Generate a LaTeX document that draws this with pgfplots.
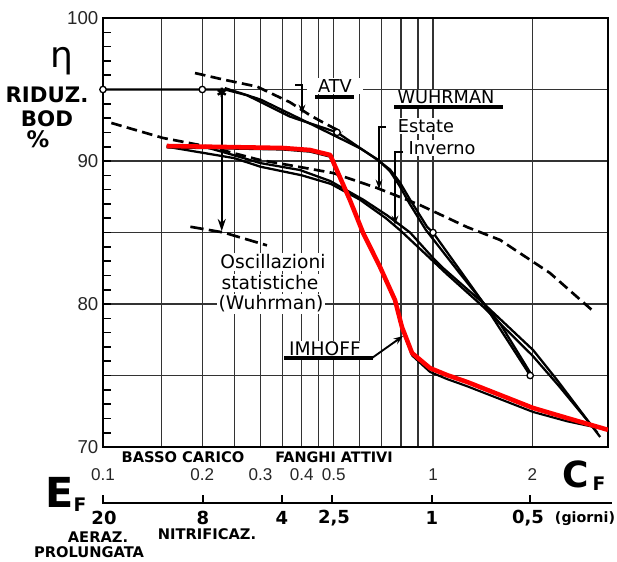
\documentclass[border=0pt]{standalone}
\usepackage{fontspec}
\setmainfont{Liberation Sans}
\newfontfamily\dejavu{DejaVu Sans}
\usepackage{pgfplots}
\pgfplotsset{compat=1.18}
\usetikzlibrary{arrows.meta}

\newcommand\anno{\dejavu\fontsize{13.3}{15}\selectfont}
\newcommand\bld[1]{\dejavu\bfseries\fontsize{#1}{#1}\selectfont}

\begin{document}
\begin{tikzpicture}
\path[use as bounding box] (-77.25pt,-85.5pt) rectangle (385.5pt,335.25pt);
\begin{axis}[
  at={(0,0)}, anchor=south west, scale only axis,
  width=378.75pt, height=321.75pt,
  xmode=log, xmin=0.1, xmax=3.39, ymin=70, ymax=100,
  axis line style={line width=1.6pt},
  xtick={0.1,0.15,0.2,0.25,0.3,0.35,0.4,0.45,0.5,0.6,0.7,0.8,0.9,1,2},
  xticklabels={0.1,,0.2,,0.3,,0.4,,0.5,,,,,1,2},
  x tick style={draw=none},
  xmajorgrids, ymajorgrids,
  grid style={black!80, line width=0.9pt},
  ytick={70,75,80,85,90,95,100}, yticklabels={70,,80,,90,,100},
  minor y tick num=4,
  ytick pos=left, xtick pos=bottom, tick align=inside,
  y tick style={line width=1.2pt, black},
  major tick length=6pt, minor tick length=6pt,
  xticklabel style={font=\fontsize{12.8}{14}\selectfont, text=black!85, anchor=center, yshift=-21pt},
  yticklabel style={font=\fontsize{14}{16}\selectfont, text=black!85},
]
% oscillazioni statistiche: upper and lower dashed envelopes
\addplot[black, line width=2pt, dash pattern=on 8pt off 4pt] coordinates {
  (0.19,96.15) (0.231,95.7) (0.293,95.2) (0.369,94.1) (0.424,93.2) (0.464,92.7) (0.53,92.0)
};
\addplot[black, line width=2pt, dash pattern=on 8pt off 4pt] coordinates {
  (0.106,92.66) (0.152,91.61) (0.211,90.98) (0.299,90.07) (0.395,89.58) (0.498,89.16)
  (0.677,88.11) (0.794,87.48) (0.913,86.92) (1.268,85.38) (1.596,84.48) (2.26,82.17) (3.03,79.58)
};
\addplot[black, line width=2pt, dash pattern=on 10pt off 4pt] coordinates {
  (0.184,85.4) (0.232,85.0) (0.314,84.1)
};
% Wuhrman inverno (lower pair)
\addplot[black, line width=1.7pt] coordinates {
  (0.156,91.05) (0.204,90.98) (0.248,90.42) (0.299,89.86) (0.395,89.37) (0.488,88.6)
  (0.614,87.3) (0.726,86.2) (0.852,85.0) (1.0,83.22) (1.072,82.52) (1.418,80.07)
  (2.01,76.78) (2.375,74.69) (3.21,70.70)
};
\addplot[black, line width=1.7pt] coordinates {
  (0.156,91.0) (0.25,90.2) (0.3,89.6) (0.4,89.0) (0.49,88.4) (0.6,87.3) (0.72,86.0)
  (0.8,85.1) (1.0,83.0) (1.1,82.1) (1.42,79.8) (2.0,76.4) (2.4,74.3) (3.15,71.0)
};
% Wuhrman estate
\addplot[black, line width=1.7pt] coordinates {
  (0.234,95.1) (0.30,94.3) (0.40,92.9) (0.49,91.9) (0.60,90.9) (0.68,90.1) (0.74,89.3)
  (0.79,88.3) (0.85,87.0) (0.95,85.2) (1.2,82.2) (1.6,78.6) (1.97,75.2)
};
% ATV
\addplot[black, line width=1.7pt] coordinates {
  (0.1,95) (0.2,95) (0.234,95.0) (0.273,94.6) (0.369,93.1) (0.512,92.0) (0.677,90.1)
  (0.741,89.4) (0.794,88.5) (0.852,87.3) (0.959,85.4) (1,85) (1.418,80.1) (1.97,75.0)
};
\addplot[only marks, mark=*, mark size=2.4pt, mark options={fill=white, draw=black, line width=1pt}]
  coordinates {(0.1,95) (0.2,95) (0.512,92) (1,85) (1.97,75)};
\addplot[only marks, mark=asterisk, mark size=3.5pt, mark options={line width=1.8pt}]
  coordinates {(0.229,94.8)};
\addplot[black, line width=1.4pt, -{Stealth[length=9pt,width=6pt]}]
  coordinates {(0.229,94.8) (0.229,85.1)};
% Imhoff
\addplot[black, line width=1.6pt] coordinates {
  (0.156,90.95) (0.351,90.8) (0.424,90.65) (0.488,90.3) (0.560,87.2) (0.614,84.9)
  (0.691,82.5) (0.767,80.2) (0.805,78.3) (0.864,76.4) (0.979,75.25) (1.103,74.75)
  (1.268,74.25) (2.01,72.45) (2.547,71.8) (3.3,71.25)
};
\addplot[red, line width=3.4pt, line join=round] coordinates {
  (0.156,91.05) (0.351,90.91) (0.424,90.77) (0.488,90.42) (0.560,87.27) (0.614,84.97)
  (0.691,82.59) (0.767,80.28) (0.805,78.39) (0.864,76.57) (0.979,75.52) (1.103,75.03)
  (1.268,74.55) (2.01,72.73) (2.547,72.03) (3.39,71.2)
};
\end{axis}

\begin{scope}[x=0.75pt, y=-0.75pt, xshift=-77.25pt, yshift=335.25pt, every node/.style={inner sep=0.5pt}]
% y label
\node at (62,61) {\dejavu\fontsize{27}{27}\selectfont η};
\node at (47,95) {\bld{16}RIDUZ.};
\node at (47,119) {\bld{16}BOD};
\node at (38,139) {\bld{17}\%};
% curve labels
\node[fill=white, inner xsep=8pt, inner ysep=1pt] at (335,86) {\anno ATV};
\draw[line width=3pt] (315,97) -- (354,97);
\node[fill=white, inner sep=0.5pt] at (446,97.5) {\anno WUHRMAN};
\draw[line width=3.2pt] (394,107) -- (503,107);
\node[fill=white, inner sep=1pt] at (426,126) {\anno Estate};
\node[fill=white, inner sep=1pt] at (442,148) {\anno Inverno};
\draw[line width=1.5pt, -{Stealth[length=7pt,width=5pt]}] (295,85) -- (302,85) -- (302,114);
\draw[line width=1.5pt, -{Stealth[length=7pt,width=5pt]}] (386,127) -- (379,127) -- (379,189);
\draw[line width=1.5pt, -{Stealth[length=7pt,width=5pt]}] (403,152) -- (395,152) -- (395,225);
\node[fill=white, inner sep=1pt] at (273,262) {\anno\fontsize{14}{15}\selectfont Oscillazioni};
\node[fill=white, inner sep=1pt] at (270,283) {\anno\fontsize{14}{15}\selectfont statistiche};
\node[fill=white, inner sep=1pt] at (271,304) {\anno\fontsize{14}{15}\selectfont (Wuhrman)};
\node[fill=white, inner sep=1pt] at (325,349) {\anno\fontsize{14}{15}\selectfont IMHOFF};
\draw[line width=3pt] (284,358) -- (373,358);
\draw[line width=1.4pt, -{Stealth[length=7pt,width=5pt]}] (372,358) -- (403,336);
% regime labels
\node at (183,457) {\bld{11}BASSO CARICO};
\node at (334,457) {\bld{10.8}FANGHI ATTIVI};
% C_F and E_F
\node at (576,474) {\bld{27}C};
\node at (599,484) {\bld{14}F};
\node at (60,492) {\bld{31}E};
\node at (80,505) {\bld{14}F};
% age of sludge scale
\draw[line width=2.2pt] (103,503) -- (612,503);
\foreach \p in {103,203,282,332,432,530} \draw[line width=2pt] (\p,495) -- (\p,504);
\node at (104,518) {\bld{13.5}20};
\node at (203,518) {\bld{13.5}8};
\node at (282,518) {\bld{13.5}4};
\node at (334,518) {\bld{13.5}2,5};
\node at (432,518) {\bld{13.5}1};
\node at (528,518) {\bld{13.5}0,5};
\node at (585,519) {\bld{10.7}(giorni)};
\node at (98,537) {\bld{11}AERAZ.};
\node at (89,552) {\bld{11}PROLUNGATA};
\node at (207,534) {\bld{11}NITRIFICAZ.};
\end{scope}
\end{tikzpicture}
\end{document}
